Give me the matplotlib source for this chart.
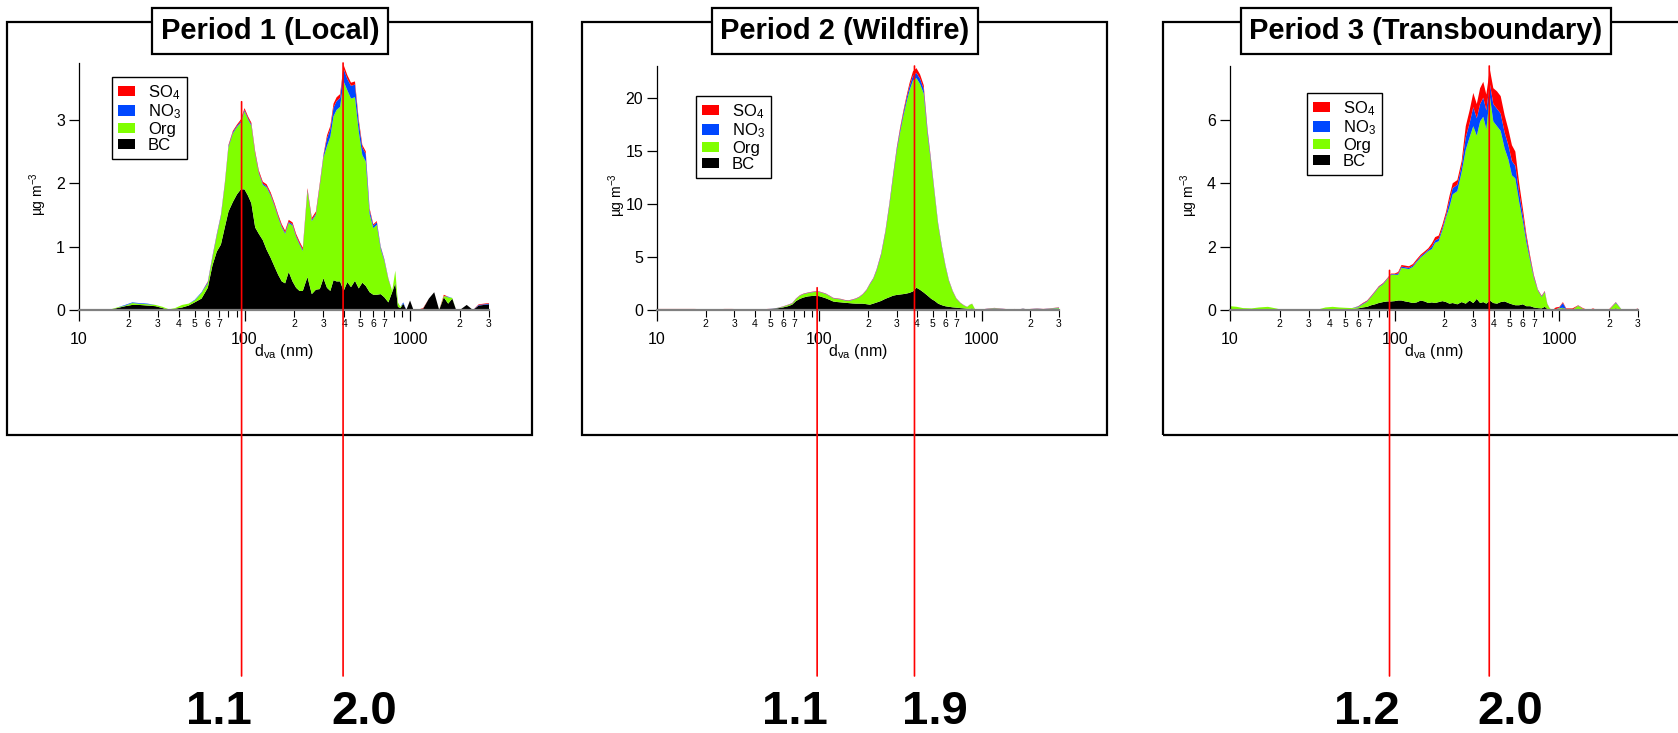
import matplotlib
matplotlib.use('Agg')
import numpy as np
import matplotlib.pyplot as plt
import matplotlib.ticker as mticker
import matplotlib.transforms as mtransforms
from matplotlib.patches import Rectangle, Patch, ConnectionPatch

plt.rcParams['font.family'] = ['Liberation Sans', 'DejaVu Sans']
plt.rcParams['mathtext.fontset'] = 'custom'
plt.rcParams['mathtext.rm'] = 'Liberation Sans'
plt.rcParams['mathtext.it'] = 'Liberation Sans:italic'
plt.rcParams['mathtext.bf'] = 'Liberation Sans:bold'

# vacuum aerodynamic diameter (nm)
dva = [10, 11, 12, 13.5, 15, 17, 19, 21, 23, 26,
       29, 32, 35, 38, 42, 46, 50, 55, 60, 64,
       68, 72, 76, 80, 85, 90, 95, 100, 105, 110,
       116, 122, 129, 136, 144, 152, 160, 168, 176, 185,
       195, 205, 215, 225, 240, 255, 270, 285, 300, 315,
       330, 345, 360, 378, 397, 418, 440, 465, 490, 515,
       540, 570, 600, 630, 665, 700, 740, 780, 815, 845,
       875, 910, 950, 1000, 1050, 1100, 1200, 1300, 1400, 1500,
       1600, 1700, 1800, 1900, 2000, 2200, 2400, 2600, 2800, 3000]

# Period 1 (Local), ug m-3
bc_p1 = [0, 0, 0, 0, 0, .03, .06, .08, .08, .07,
         .06, .03, 0, .02, .04, .07, .12, .18, .35, .70,
         .92, 1.03, 1.3, 1.55, 1.7, 1.82, 1.9, 1.9, 1.8, 1.68,
         1.3, 1.2, 1.1, .95, .82, .68, .55, .45, .42, .6,
         .45, .35, .3, .3, .52, .25, .32, .33, .5, .35,
         .3, .47, .45, .45, .3, .44, .36, .46, .34, .43,
         .38, .28, .24, .24, .25, .2, .12, .28, .42, .05,
         .03, .1, 0, .15, 0, 0, .02, .18, .28, 0,
         .2, .1, .18, 0, 0, .08, 0, .07, .08, .09]
org_p1 = [0, 0, 0, 0, 0, .01, .01, .03, .02, .02,
          .02, .02, .01, .01, .04, .03, .03, .09, .07, .12,
          .25, .44, .66, 1.01, 1.08, 1.06, 1.05, 1.23, 1.2, 1.22,
          1.15, .95, .87, .98, .98, .95, .9, .85, .78, .77,
          .88, .8, .73, .63, 1.35, 1.15, 1.18, 1.62, 1.9, 2.23,
          2.43, 2.58, 2.7, 2.75, 3.3, 3.02, 2.97, 2.89, 2.47, 2.01,
          1.96, 1.23, 1.05, 1.1, .71, .57, .36, .02, .2, .07,
          .02, 0, 0, 0, 0, 0, 0, 0, 0, 0,
          .02, .1, .01, 0, 0, 0, 0, 0, 0, 0]
no3_p1 = [0, 0, 0, 0, 0, 0, .01, .01, .01, .01,
          0, 0, 0, 0, 0, 0, .01, .01, .02, .02,
          .02, .02, .02, .02, .02, .02, .02, .02, .02, .02,
          .02, .02, .02, .02, .02, .02, .02, .02, .02, .02,
          .02, .02, .02, .02, .02, .02, .02, .02, .03, .12,
          .12, .14, .14, .14, .2, .18, .2, .2, .14, .12,
          .12, .06, .04, .04, .03, .02, .01, 0, 0, 0,
          0, .02, 0, 0, 0, 0, 0, 0, 0, 0,
          0, .01, 0, 0, 0, 0, 0, .01, .01, .01]
so4_p1 = [0, 0, 0, 0, 0, 0, 0, 0, 0, 0,
          0, 0, 0, 0, 0, 0, 0, 0, .01, .01,
          .01, .01, .02, .02, .02, .02, .03, .03, .03, .03,
          .03, .03, .03, .03, .03, .03, .03, .03, .03, .03,
          .03, .03, .03, .03, .03, .03, .03, .03, .02, .05,
          .05, .06, .06, .06, .06, .06, .05, .05, .05, .04,
          .04, .03, .02, .02, .01, .01, .01, 0, 0, 0,
          0, 0, 0, 0, 0, 0, .01, 0, 0, 0,
          .02, 0, 0, 0, 0, 0, 0, .01, .01, .01]

# Period 2 (Wildfire)
bc_p2 = [.05, .05, .05, .05, .05, .05, .04, .04, .03, .03,
         .04, .04, .04, .03, .03, .04, .08, .15, .25, .35,
         .5, .85, 1.05, 1.18, 1.28, 1.32, 1.35, 1.3, 1.2, 1.1,
         .95, .8, .75, .72, .68, .65, .62, .6, .6, .6,
         .55, .5, .6, .7, .85, 1.05, 1.2, 1.35, 1.42, 1.46,
         1.5, 1.55, 1.62, 1.75, 2.1, 1.9, 1.65, 1.35, 1.05, .85,
         .6, .45, .35, .3, .25, .22, .18, .15, .12, .1,
         .15, .05, .03, 0, .05, .08, .1, .08, .05, .03,
         .05, .02, .1, .02, .05, .08, .05, .08, .1, .1]
org_p2 = [.02, .02, .02, .02, .02, .02, .01, .01, 0, 0,
          0, .02, .02, .01, .01, .02, .01, .02, .06, .11,
          .09, .19, .29, .31, .31, .34, .37, .39, .39, .39,
          .34, .29, .29, .27, .21, .21, .32, .44, .59, .84,
          1.27, 1.91, 2.29, 2.96, 4.27, 6.13, 8.53, 11.12, 13.53, 15.29,
          16.8, 18.05, 19.08, 19.9, 19.75, 19.4, 18.75, 15.15, 12.6, 9.9,
          7.4, 5.38, 3.71, 2.39, 1.47, .82, .48, .26, .16, .38,
          .43, .03, .02, 0, .02, .03, .05, .03, .02, 0,
          .02, .01, .02, .01, .02, .03, .02, .03, .05, .08]
no3_p2 = [.02, .02, .02, .02, .02, .02, .02, .02, .02, .02,
          .01, .01, .01, .01, .01, .01, .02, .02, .02, .02,
          .03, .03, .03, .03, .03, .03, .03, .03, .03, .03,
          .03, .03, .03, .03, .03, .03, .03, .03, .03, .03,
          .04, .05, .06, .08, .1, .12, .15, .18, .2, .25,
          .3, .35, .4, .45, .5, .5, .45, .3, .2, .15,
          .12, .1, .08, .06, .04, .03, .02, .02, .01, .01,
          .01, .01, 0, 0, .02, .02, .03, .02, .02, .01,
          .02, .01, .02, .01, .02, .02, .02, .02, .03, .04]
so4_p2 = [.01, .01, .01, .01, .01, .01, .01, .01, .01, .05,
          .05, .01, .01, .01, .01, .01, .01, .01, .02, .02,
          .03, .03, .03, .03, .03, .03, .03, .03, .03, .03,
          .03, .03, .03, .03, .03, .03, .03, .03, .03, .03,
          .04, .04, .05, .06, .08, .1, .12, .15, .15, .2,
          .2, .25, .3, .4, .45, .4, .35, .2, .15, .1,
          .08, .07, .06, .05, .04, .03, .02, .02, .01, .01,
          .01, .01, 0, 0, .01, .02, .02, .02, .01, .01,
          .01, .01, .01, .01, .01, .02, .01, .02, .02, .03]

# Period 3 (Transboundary)
bc_p3 = [.03, .03, .02, .02, .03, .03, .02, 0, 0, 0,
         0, 0, .01, .02, .02, .02, .03, .03, .05, .08,
         .1, .15, .18, .22, .25, .27, .27, .28, .3, .3,
         .27, .25, .22, .24, .3, .27, .22, .24, .22, .25,
         .28, .25, .2, .22, .18, .25, .2, .3, .22, .35,
         .22, .25, .2, .3, .22, .2, .25, .27, .22, .18,
         .15, .15, .18, .12, .12, .08, .06, .05, .1, .03,
         .02, 0, .02, .03, .05, .02, .01, .03, .02, 0,
         .01, 0, 0, 0, 0, .05, 0, 0, 0, .01]
org_p3 = [.09, .07, .04, .03, .05, .07, .03, 0, 0, 0,
          0, 0, .02, .06, .08, .06, .04, .03, .04, .1,
          .16, .26, .38, .49, .56, .69, .84, .83, .81, 1.03,
          1.04, 1.04, 1.14, 1.27, 1.36, 1.49, 1.64, 1.68, 1.9, 1.92,
          2.24, 2.67, 3.05, 3.43, 3.57, 4.1, 4.85, 5.15, 5.58, 5.15,
          5.73, 5.85, 5.5, 6.45, 5.73, 5.6, 5.4, 4.83, 4.53, 4.07,
          4.0, 3.25, 2.62, 2.01, 1.42, .92, .55, .36, .46, .15,
          .03, 0, 0, .03, .02, .01, 0, .1, .01, 0,
          0, 0, 0, 0, 0, .17, 0, 0, 0, .01]
no3_p3 = [0, 0, 0, 0, 0, 0, 0, 0, 0, 0,
          0, 0, 0, 0, 0, 0, 0, 0, .02, .02,
          .02, .02, .02, .02, .02, .02, .02, .02, .04, .04,
          .04, .04, .04, .04, .04, .04, .04, .08, .08, .08,
          .08, .08, .2, .2, .2, .2, .4, .45, .6, .55,
          .55, .6, .6, .4, .55, .55, .55, .5, .45, .45,
          .4, .3, .2, .15, .08, .05, .02, .02, .02, .01,
          0, 0, 0, .02, .15, 0, 0, .01, 0, 0,
          0, 0, 0, 0, 0, .02, 0, 0, 0, .02]
so4_p3 = [0, 0, 0, 0, 0, 0, 0, 0, 0, 0,
          0, 0, 0, 0, 0, 0, 0, 0, .01, .02,
          .02, .02, .02, .02, .02, .02, .02, .02, .05, .05,
          .05, .05, .05, .05, .05, .05, .05, .1, .1, .1,
          .1, .1, .15, .15, .15, .15, .35, .4, .45, .45,
          .5, .5, .5, .45, .5, .55, .55, .55, .5, .5,
          .45, .3, .2, .12, .08, .05, .02, .02, .02, .01,
          0, 0, .06, .02, .03, .02, .04, .01, .02, 0,
          .04, 0, 0, 0, .02, .01, 0, 0, 0, .01]

titles = ['Period 1 (Local)', 'Period 2 (Wildfire)', 'Period 3 (Transboundary)']
y_max = [3.89, 23.0, 7.7]
y_ticks = [[0, 1, 2, 3], [0, 5, 10, 15, 20], [0, 2, 4, 6]]

# mode diameters (nm) marked by red lines and the density written below
mode_dva = [[96, 394], [97, 386], [93, 375]]
mode_top = [[3.28, 3.89], [2.1, 23.0], [1.25, 7.7]]
density = [['1.1', '2.0'], ['1.1', '1.9'], ['1.2', '2.0']]

species = ['SO$_4$', 'NO$_3$', 'Org', 'BC']
colors = {'SO$_4$': '#FF0000', 'NO$_3$': '#0047FF', 'Org': '#80FF00', 'BC': '#000000'}

data = [(bc_p1, org_p1, no3_p1, so4_p1),
        (bc_p2, org_p2, no3_p2, so4_p2),
        (bc_p3, org_p3, no3_p3, so4_p3)]

# layout in pixels: axes x0, x1, top; frame left, right; title centre x; legend upper-left
W, H = 1678, 733
layout = [dict(x0=79, x1=489, top=63, fl=7, fr=532, tx=270, lx=112, ly=77),
          dict(x0=657, x1=1059, top=66, fl=582, fr=1107, tx=845, lx=696, ly=96),
          dict(x0=1230, x1=1638, top=66, fl=1163, fr=1700, tx=1426, lx=1307, ly=93)]
base_y = 310


def minor_fmt(v, pos):
    d = int(round(v / 10 ** np.floor(np.log10(v))))
    return str(d) if 2 <= d <= 7 else ''


fig = plt.figure(figsize=(W / 100, H / 100), dpi=100)

for i in range(3):
    L = layout[i]
    bc, org, no3, so4 = data[i]

    # outer frame of the panel
    fig.add_artist(Rectangle((L['fl'] / W, 1 - 435 / H), (L['fr'] - L['fl']) / W, (435 - 22) / H,
                             transform=fig.transFigure, fill=False, ec='black', lw=1.6, zorder=1))

    ax = fig.add_axes([L['x0'] / W, 1 - base_y / H, (L['x1'] - L['x0']) / W, (base_y - L['top']) / H])
    ax.patch.set_alpha(0)
    ax.stackplot(dva, bc, org, no3, so4,
                 colors=[colors['BC'], colors['Org'], colors['NO$_3$'], colors['SO$_4$']],
                 linewidth=0)
    ax.set_xscale('log')
    ax.set_xlim(10, 3000)
    ax.set_ylim(0, y_max[i])
    ax.set_yticks(y_ticks[i])
    ax.yaxis.set_major_formatter(mticker.FormatStrFormatter('%d'))

    ax.xaxis.set_major_locator(mticker.LogLocator(base=10))
    ax.xaxis.set_major_formatter(mticker.FuncFormatter(lambda v, p: f'{v:g}'))
    ax.xaxis.set_minor_locator(mticker.LogLocator(base=10, subs=range(2, 10)))
    ax.xaxis.set_minor_formatter(mticker.FuncFormatter(minor_fmt))

    for s in ['top', 'right']:
        ax.spines[s].set_visible(False)
    ax.spines['bottom'].set_color('#808080')
    ax.spines['bottom'].set_linewidth(1.6)
    ax.spines['left'].set_linewidth(0.9)

    ax.tick_params(axis='y', which='major', direction='out', length=7, width=0.9, labelsize=11.5, pad=3)
    ax.tick_params(axis='x', which='major', direction='out', length=8, width=0.9, labelsize=11.5, pad=8)
    ax.tick_params(axis='x', which='minor', direction='out', length=5, width=0.8, labelsize=7.5, pad=1.2)

    ax.set_xlabel('d$_{\\mathrm{va}}$ (nm)', fontsize=11.5, va='center')
    ax.xaxis.set_label_coords(0.5, -0.17)
    ax.set_ylabel('\u00b5g m$^{\\mathrm{-3}}$', fontsize=10, va='center')
    ax.yaxis.set_label_coords(-0.1, 0.47)

    handles = [Patch(facecolor=colors[s], edgecolor='none') for s in species]
    leg = ax.legend(handles, species, loc='upper left',
                    bbox_to_anchor=(L['lx'] / W, 1 - L['ly'] / H), bbox_transform=fig.transFigure,
                    fancybox=False, edgecolor='black', framealpha=1, fontsize=12,
                    handlelength=1.0, handleheight=0.6, handletextpad=0.8,
                    labelspacing=0.05, borderpad=0.35, borderaxespad=0)
    leg.get_frame().set_linewidth(1.0)

    # title box on top of the frame
    fig.text(L['tx'] / W, 1 - 31 / H, titles[i], ha='center', va='center',
             fontsize=21, fontweight='bold', zorder=5,
             bbox=dict(boxstyle='square,pad=0.3', fc='white', ec='black', lw=1.6))

    # red mode lines running down to the density labels
    trans = mtransforms.blended_transform_factory(ax.transData, fig.transFigure)
    for j in range(2):
        x = mode_dva[i][j]
        con = ConnectionPatch(xyA=(x, mode_top[i][j]), coordsA=ax.transData,
                              xyB=(x, 1 - 676 / H), coordsB=trans,
                              color='red', lw=1.2, zorder=6)
        fig.add_artist(con)
        ax.annotate(density[i][j], xy=(x, 1 - 712 / H), xycoords=trans,
                    xytext=(-16 if j == 0 else 15, 0), textcoords='offset points',
                    ha='center', va='center', fontsize=34, fontweight='bold',
                    annotation_clip=False)

fig.savefig('out.png', dpi=100)
